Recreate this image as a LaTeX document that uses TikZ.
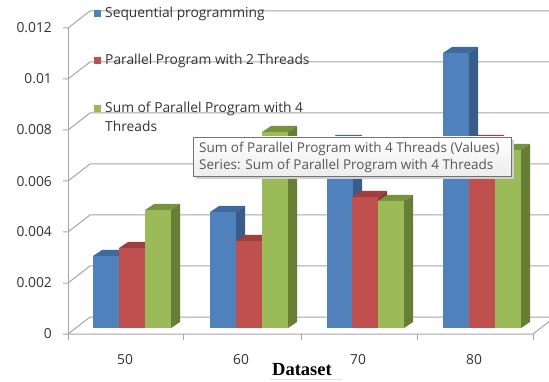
\documentclass[tikz,border=0pt]{standalone}
\usepackage{fontspec}
\setmainfont{Open Sans}
\newfontfamily\dsfont{Liberation Serif}
\definecolor{bluef}{HTML}{4F81BD}
\definecolor{bluet}{HTML}{3E6AA0}
\definecolor{blues}{HTML}{385D8A}
\definecolor{redf}{HTML}{C0504D}
\definecolor{redt}{HTML}{9E3F3C}
\definecolor{reds}{HTML}{8C3836}
\definecolor{greenf}{HTML}{9BBB59}
\definecolor{greent}{HTML}{77933C}
\definecolor{greens}{HTML}{667F35}
\definecolor{gridc}{HTML}{A6A6A6}
\definecolor{txt}{HTML}{333333}
\definecolor{tipt}{HTML}{575757}
\newcommand{\mybar}[5]{%
  \fill[#3] (#1,328) rectangle ({#1+26},#2);
  \fill[#4] (#1,#2) -- ({#1+26},#2) -- ({#1+35},{#2-6}) -- ({#1+9},{#2-6}) -- cycle;
  \fill[#5] ({#1+26},#2) -- ({#1+35},{#2-6}) -- ({#1+35},322) -- ({#1+26},328) -- cycle;
}
\tikzset{
  grid line/.style={draw=gridc, line width=1pt},
  ticklab/.style={anchor=east, text=txt, font=\fontsize{13.8}{15}\selectfont, inner sep=0pt},
  catlab/.style={anchor=center, text=txt, font=\fontsize{13.8}{15}\selectfont, inner sep=0pt},
  leglab/.style={anchor=base west, text=txt, font=\fontsize{13.8}{19}\selectfont, inner sep=0pt, align=left},
  legkey/.style={minimum size=7pt, inner sep=0pt, anchor=center},
  tiplab/.style={anchor=base west, text=tipt, font=\fontsize{13.5}{15}\selectfont, inner sep=0pt}
}
\begin{document}
\begin{tikzpicture}[x=1pt,y=-1pt]
\useasboundingbox (0,0) rectangle (549,382);
\clip (0,0) rectangle (549,382);
\fill[white] (0,0) rectangle (549,382);
% back grid and left wall
\foreach \k in {0,...,6} {
  \draw[grid line] (63,{334-51*\k}) -- (68,{334-51*\k}) -- (90,{317-51*\k}) -- (560,{317-51*\k});
}
\draw[grid line] (68,28) -- (68,334);
% floor front edge and ticks
\draw[grid line] (68,334) -- (533,334) -- (555,317);
\foreach \x in {68,183,301,417,533} { \draw[grid line] (\x,334) -- (\x,340); }
% bars
\mybar{93}{256}{bluef}{bluet}{blues}
\mybar{119}{248}{redf}{redt}{reds}
\mybar{145}{210}{greenf}{greent}{greens}
\mybar{210}{212}{bluef}{bluet}{blues}
\mybar{236}{241}{redf}{redt}{reds}
\mybar{262}{132}{greenf}{greent}{greens}
\mybar{327}{141}{bluef}{bluet}{blues}
\mybar{352}{197}{redf}{redt}{reds}
\mybar{378}{201}{greenf}{greent}{greens}
\mybar{443}{53}{bluef}{bluet}{blues}
\mybar{469}{141}{redf}{redt}{reds}
\mybar{495}{150}{greenf}{greent}{greens}
% tick labels
\node[ticklab] (t0) at (52,334) {0};
\node[ticklab] (t1) at (52,283) {0.002};
\node[ticklab] (t2) at (52,232) {0.004};
\node[ticklab] (t3) at (52,182) {0.006};
\node[ticklab] (t4) at (52,130) {0.008};
\node[ticklab] (t5) at (52,79) {0.01};
\node[ticklab] (t6) at (52,28) {0.012};
% category labels
\node[catlab] (c1) at (125,360) {50};
\node[catlab] (c2) at (241,360) {60};
\node[catlab] (c3) at (358,360) {70};
\node[catlab] (c4) at (474,360) {80};
% axis title
\node[anchor=base, inner sep=0pt, font=\dsfont\bfseries\fontsize{18.5}{20}\selectfont, text=black] (dt) at (302,375) {Dataset};
\draw[draw=black!12, line width=1pt] (270,379) -- (342,379);
% legend
\node[legkey, fill=bluef] (k1) at (97,14) {};
\node[legkey, fill=redf] (k2) at (97,61) {};
\node[legkey, fill=greenf] (k3) at (97,109) {};
\node[leglab] (l1) at (105,18) {Sequential programming};
\node[leglab] (l2) at (105,65) {Parallel Program with 2 Threads};
\node[leglab] (l3) at (105,113) {Sum of Parallel Program with 4};
\node[leglab] (l3b) at (105,132) {Threads};
% tooltip
\fill[black!18] (196,140) rectangle (514,179);
\shade[top color=white, bottom color=blue!4!black!7, draw=black!55, line width=0.8pt] (193,137) rectangle (511,176);
\node[tiplab] (tp1) at (199,153) {Sum of Parallel Program with 4 Threads (Values)};
\node[tiplab] (tp2) at (199,170) {Series: Sum of Parallel Program with 4 Threads};
\end{tikzpicture}
\end{document}
